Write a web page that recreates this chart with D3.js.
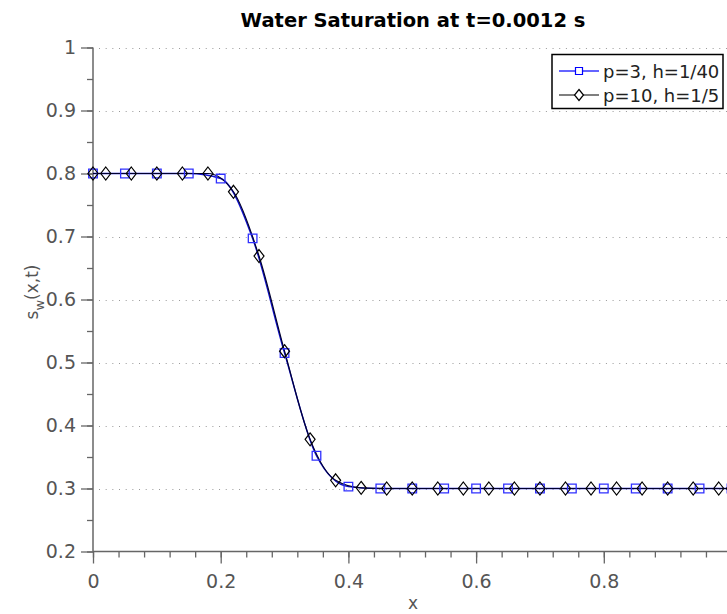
<!DOCTYPE html>
<html>
<head>
<meta charset="utf-8">
<script src="https://cdn.jsdelivr.net/npm/d3@7"></script>
<style>
  body { margin: 0; background: #fff; }
  svg { display: block; font-family: "DejaVu Sans", sans-serif; }
</style>
</head>
<body>
<div id="chart"></div>
<script>
// p=3, h=1/40 (blue squares)
const xsP3 = [0, 0.05, 0.1, 0.15, 0.2, 0.25, 0.3, 0.35, 0.4, 0.45, 0.5, 0.55, 0.6, 0.65, 0.7, 0.75, 0.8, 0.85, 0.9, 0.95, 1.0];
const ysP3 = [0.8, 0.8, 0.8, 0.8, 0.792, 0.697, 0.515, 0.352, 0.303, 0.3, 0.3, 0.3, 0.3, 0.3, 0.3, 0.3, 0.3, 0.3, 0.3, 0.3, 0.3];
// p=10, h=1/5 (black diamonds)
const xsP10 = [0, 0.02, 0.06, 0.1, 0.14, 0.18, 0.22, 0.26, 0.3, 0.34, 0.38, 0.42, 0.46, 0.5, 0.54, 0.58, 0.62, 0.66, 0.7, 0.74, 0.78, 0.82, 0.86, 0.9, 0.94, 0.98, 1.0];
const ysP10 = [0.8, 0.8, 0.8, 0.8, 0.8, 0.8, 0.771, 0.669, 0.518, 0.378, 0.313, 0.301, 0.3, 0.3, 0.3, 0.3, 0.3, 0.3, 0.3, 0.3, 0.3, 0.3, 0.3, 0.3, 0.3, 0.3, 0.3];
const seriesNames = ["p=3, h=1/40", "p=10, h=1/5"];
const yTicks = [0.2, 0.3, 0.4, 0.5, 0.6, 0.7, 0.8, 0.9, 1];
const xTicks = [0, 0.2, 0.4, 0.6, 0.8];

const width = 727, height = 614;
const marginLeft = 93, marginTop = 47.5, plotBottom = 551.5;
const axisColor = "#666", labelColor = "#555";

const x = d3.scaleLinear().domain([0, 1]).range([marginLeft, 731.5]);
const y = d3.scaleLinear().domain([0.2, 1]).range([plotBottom, marginTop]);

const svg = d3.select("#chart").append("svg")
    .attr("width", width)
    .attr("height", height)
    .attr("viewBox", [0, 0, width, height]);

// dotted horizontal grid
svg.append("g")
    .attr("stroke", "#999")
    .attr("stroke-width", 1)
    .attr("stroke-dasharray", "1,5.67")
  .selectAll("line")
  .data(yTicks.filter(d => d > 0.2))
  .join("line")
    .attr("x1", marginLeft + 6)
    .attr("x2", width)
    .attr("y1", d => Math.round(y(d)) + 0.5)
    .attr("y2", d => Math.round(y(d)) + 0.5);

// x axis
const xAxis = svg.append("g")
    .attr("transform", `translate(0,${plotBottom})`);
xAxis.call(d3.axisBottom(x).tickValues(d3.range(0, 1.0001, 0.04)).tickSize(6).tickFormat(""))
    .call(g => g.select(".domain").remove())
    .call(g => g.selectAll("line").attr("stroke", axisColor).attr("stroke-width", 1.3));
xAxis.append("g")
    .call(d3.axisBottom(x).tickValues(xTicks).tickSize(12).tickFormat(d3.format("~g")))
    .call(g => g.select(".domain").remove())
    .call(g => g.selectAll("line").attr("stroke", axisColor).attr("stroke-width", 1.3))
    .call(g => g.selectAll("text")
        .attr("fill", labelColor)
        .attr("font-size", 19)
        .attr("font-family", "DejaVu Sans, sans-serif")
        .attr("dy", null)
        .attr("y", 36));
xAxis.append("line")
    .attr("x1", marginLeft).attr("x2", width)
    .attr("stroke", axisColor).attr("stroke-width", 1.5);

// y axis
const yAxis = svg.append("g")
    .attr("transform", `translate(${marginLeft},0)`);
yAxis.call(d3.axisLeft(y).tickValues(d3.range(0.2, 1.0001, 0.05)).tickSize(6).tickFormat(""))
    .call(g => g.select(".domain").remove())
    .call(g => g.selectAll("line").attr("stroke", axisColor).attr("stroke-width", 1.3));
yAxis.append("g")
    .call(d3.axisLeft(y).tickValues(yTicks).tickSize(12).tickFormat(d3.format("~g")))
    .call(g => g.select(".domain").remove())
    .call(g => g.selectAll("line").attr("stroke", axisColor).attr("stroke-width", 1.3))
    .call(g => g.selectAll("text")
        .attr("fill", labelColor)
        .attr("font-size", 19)
        .attr("font-family", "DejaVu Sans, sans-serif")
        .attr("x", -17));
yAxis.append("line")
    .attr("y1", marginTop).attr("y2", plotBottom)
    .attr("stroke", axisColor).attr("stroke-width", 1.5);

// lines
const p3 = xsP3.map((v, i) => ({x: v, y: ysP3[i]}));
const p10 = xsP10.map((v, i) => ({x: v, y: ysP10[i]}));
const line = d3.line().x(d => x(d.x)).y(d => y(d.y)).curve(d3.curveMonotoneX);

svg.append("path").datum(p3)
    .attr("fill", "none").attr("stroke", "#1010d0").attr("stroke-width", 1.4)
    .attr("d", line);
svg.append("path").datum(p10)
    .attr("fill", "none").attr("stroke", "#000030").attr("stroke-width", 1.2)
    .attr("d", line);

// markers
const squarePath = s => `M${-s},${-s}H${s}V${s}H${-s}Z`;
const diamondPath = (w, h) => `M0,${-h}L${w},0L0,${h}L${-w},0Z`;

svg.append("g")
  .selectAll("path")
  .data(p3)
  .join("path")
    .attr("transform", d => `translate(${x(d.x)},${y(d.y)})`)
    .attr("d", squarePath(4.3))
    .attr("fill", "none")
    .attr("stroke", "#3030ff")
    .attr("stroke-width", 1.3);

svg.append("g")
  .selectAll("path")
  .data(p10)
  .join("path")
    .attr("transform", d => `translate(${x(d.x)},${y(d.y)})`)
    .attr("d", diamondPath(5, 6.5))
    .attr("fill", "none")
    .attr("stroke", "#000")
    .attr("stroke-width", 1.2);

// title and axis labels
svg.append("text")
    .attr("x", 413).attr("y", 27)
    .attr("text-anchor", "middle")
    .attr("font-size", 19.5)
    .attr("font-weight", "bold")
    .attr("fill", "#000")
    .text("Water Saturation at t=0.0012 s");

svg.append("text")
    .attr("x", 413).attr("y", 609)
    .attr("text-anchor", "middle")
    .attr("font-size", 17)
    .attr("fill", labelColor)
    .text("x");

const yl = svg.append("text")
    .attr("transform", "translate(38,292) rotate(-90)")
    .attr("text-anchor", "middle")
    .attr("font-size", 17)
    .attr("fill", labelColor);
yl.append("tspan").text("s");
yl.append("tspan").attr("dy", 6).attr("font-size", 13).text("w");
yl.append("tspan").attr("dy", -6).text("(x,t)");

// legend
const legend = svg.append("g");
legend.append("rect")
    .attr("x", 552).attr("y", 54.5)
    .attr("width", 171).attr("height", 54)
    .attr("fill", "#fff").attr("stroke", "#000").attr("stroke-width", 1.5);

const legendRows = [
  {name: seriesNames[0], color: "#3030ff", marker: squarePath(3.5)},
  {name: seriesNames[1], color: "#555", marker: diamondPath(4.5, 5.5)}
];
legendRows.forEach((r, i) => {
  const cy = 71 + i * 24;
  legend.append("line")
      .attr("x1", 559).attr("x2", 599).attr("y1", cy).attr("y2", cy)
      .attr("stroke", r.color).attr("stroke-width", 1.3);
  legend.append("path")
      .attr("transform", `translate(579,${cy})`)
      .attr("d", r.marker)
      .attr("fill", "#fff")
      .attr("stroke", i === 0 ? "#0000ff" : "#000")
      .attr("stroke-width", 1.2);
  legend.append("text")
      .attr("x", 603).attr("y", cy + 6.5)
      .attr("font-size", 18)
      .attr("fill", "#222")
      .text(r.name);
});
</script>
</body>
</html>
